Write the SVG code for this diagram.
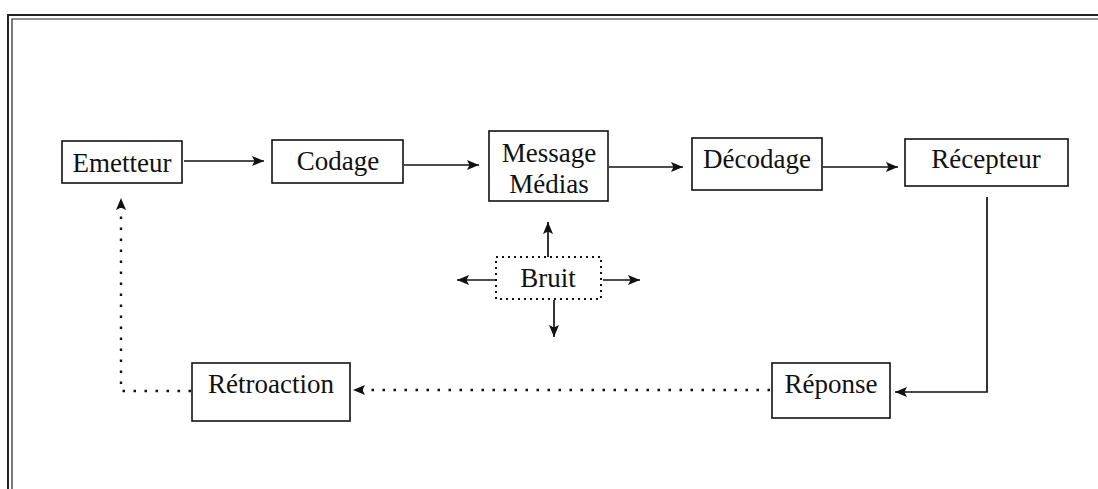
<svg xmlns="http://www.w3.org/2000/svg" width="1098" height="489" viewBox="0 0 1098 489">
<style>
.box{fill:#fff;stroke:#111;stroke-width:1.6}
.dbox{fill:#fff;stroke:#111;stroke-width:2;stroke-dasharray:2 4}
.t{font-family:"Liberation Serif","Times New Roman",serif;font-size:27px;fill:#111;text-anchor:middle}
.c{fill:none;stroke:#111;stroke-width:1.7}
.d{fill:none;stroke:#111;stroke-width:2.4;stroke-dasharray:2.5 8.5}
.frame{fill:none;stroke:#222}
</style>
<defs>
<marker id="ah" markerUnits="userSpaceOnUse" markerWidth="12" markerHeight="10" refX="12" refY="5" orient="auto">
<path d="M0,0 L12,5 L0,10 L2.5,5 z" fill="#111"/>
</marker>
</defs>
<rect width="1098" height="489" fill="#fff"/>
<g id="frame">
<path class="frame" stroke-width="2" d="M8,489 V15 H1098"/>
<path class="frame" stroke-width="1.2" d="M12,489 V19 H1098"/>
</g>
<g id="connectors">
<line class="c" x1="184" y1="161" x2="264" y2="161" marker-end="url(#ah)"/>
<line class="c" x1="404" y1="165" x2="479" y2="165" marker-end="url(#ah)"/>
<line class="c" x1="609" y1="167" x2="683" y2="167" marker-end="url(#ah)"/>
<line class="c" x1="823" y1="167" x2="898" y2="167" marker-end="url(#ah)"/>
<path class="c" d="M987,197 V392 H895" marker-end="url(#ah)"/>
<line class="d" x1="770" y1="390" x2="353" y2="390" marker-end="url(#ah)"/>
<path class="d" d="M191,391 H121 V198" marker-end="url(#ah)"/>
<line class="c" x1="548" y1="257" x2="548" y2="222" marker-end="url(#ah)"/>
<line class="c" x1="496" y1="280" x2="457" y2="280" marker-end="url(#ah)"/>
<line class="c" x1="603" y1="280" x2="640" y2="280" marker-end="url(#ah)"/>
<line class="c" x1="554" y1="300" x2="554" y2="337" marker-end="url(#ah)"/>
</g>
<g id="emetteur">
<rect class="box" x="62" y="141" width="120" height="42"/>
<text class="t" x="122" y="172">Emetteur</text>
</g>
<g id="codage">
<rect class="box" x="272" y="140" width="131" height="43"/>
<text class="t" x="338" y="170">Codage</text>
</g>
<g id="message">
<rect class="box" x="489" y="131" width="119" height="70"/>
<text class="t" x="549" y="162">Message</text>
<text class="t" x="549" y="193">Médias</text>
</g>
<g id="decodage">
<rect class="box" x="692" y="138" width="130" height="52"/>
<text class="t" x="757" y="168">Décodage</text>
</g>
<g id="recepteur">
<rect class="box" x="905" y="139" width="163" height="47"/>
<text class="t" x="986" y="168">Récepteur</text>
</g>
<g id="bruit">
<rect class="dbox" x="496" y="257" width="105" height="42"/>
<text class="t" x="548" y="287">Bruit</text>
</g>
<g id="reponse">
<rect class="box" x="772" y="363" width="118" height="55"/>
<text class="t" x="831" y="393">Réponse</text>
</g>
<g id="retroaction">
<rect class="box" x="192" y="363" width="158" height="58"/>
<text class="t" x="271" y="393">Rétroaction</text>
</g>
</svg>
